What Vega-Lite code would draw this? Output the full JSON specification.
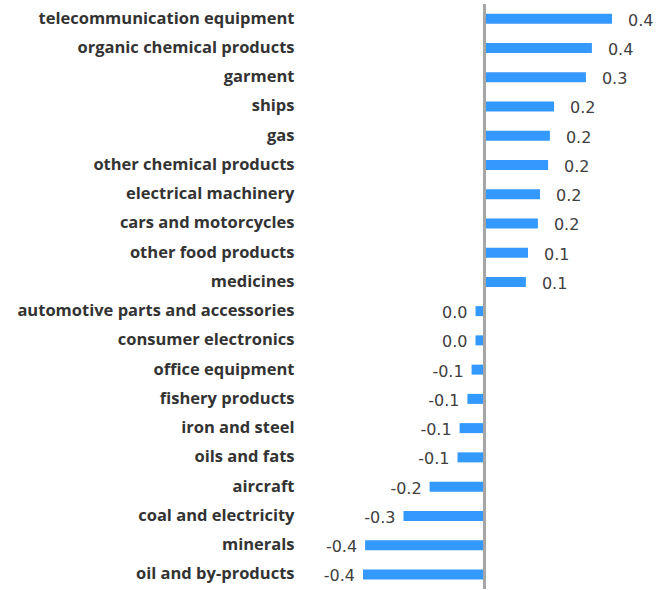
{
  "$schema": "https://vega.github.io/schema/vega-lite/v6.json",
  "autosize": {"type": "none"},
  "padding": {"left": 300, "top": 4, "right": 9, "bottom": 1},
  "width": 360,
  "height": 585,
  "background": "white",
  "config": {"view": {"stroke": null}},
  "data": {"values": [
    {"category": "telecommunication equipment", "value": 0.425, "label": "0.4"},
    {"category": "organic chemical products", "value": 0.358, "label": "0.4"},
    {"category": "garment", "value": 0.338, "label": "0.3"},
    {"category": "ships", "value": 0.232, "label": "0.2"},
    {"category": "gas", "value": 0.218, "label": "0.2"},
    {"category": "other chemical products", "value": 0.212, "label": "0.2"},
    {"category": "electrical machinery", "value": 0.185, "label": "0.2"},
    {"category": "cars and motorcycles", "value": 0.178, "label": "0.2"},
    {"category": "other food products", "value": 0.145, "label": "0.1"},
    {"category": "medicines", "value": 0.138, "label": "0.1"},
    {"category": "automotive parts and accessories", "value": -0.03, "label": "0.0"},
    {"category": "consumer electronics", "value": -0.03, "label": "0.0"},
    {"category": "office equipment", "value": -0.043, "label": "-0.1"},
    {"category": "fishery products ", "value": -0.057, "label": "-0.1"},
    {"category": "iron and steel", "value": -0.083, "label": "-0.1"},
    {"category": "oils and fats", "value": -0.09, "label": "-0.1"},
    {"category": "aircraft", "value": -0.183, "label": "-0.2"},
    {"category": "coal and electricity", "value": -0.27, "label": "-0.3"},
    {"category": "minerals", "value": -0.398, "label": "-0.4"},
    {"category": "oil and by-products", "value": -0.405, "label": "-0.4"}
  ]},
  "encoding": {
    "y": {
      "field": "category", "type": "nominal", "sort": null,
      "scale": {"paddingInner": 0, "paddingOuter": 0},
      "axis": {
        "title": null, "domain": false, "ticks": false, "labelPadding": 6,
        "labelFont": "Open Sans", "labelFontWeight": "bold", "labelFontSize": 16.5,
        "labelColor": "#333333", "labelLimit": 400
      }
    },
    "x": {
      "field": "value", "type": "quantitative",
      "scale": {"domain": [-0.615, 0.585], "nice": false, "zero": false},
      "axis": null
    }
  },
  "layer": [
    {"mark": {"type": "bar", "color": "#3399FF", "size": 10}},
    {
      "transform": [{"filter": "datum.value >= 0"}],
      "mark": {"type": "text", "align": "left", "baseline": "middle", "dx": 16, "dy": 2,
               "font": "DejaVu Sans", "fontSize": 16, "color": "#404040"},
      "encoding": {"text": {"field": "label"}}
    },
    {
      "transform": [{"filter": "datum.value < 0"}],
      "mark": {"type": "text", "align": "right", "baseline": "middle", "dx": -8, "dy": 2,
               "font": "DejaVu Sans", "fontSize": 16, "color": "#404040"},
      "encoding": {"text": {"field": "label"}}
    },
    {
      "mark": {"type": "rule", "color": "#A6A6A6", "strokeWidth": 3},
      "encoding": {"x": {"datum": 0}, "y": null}
    }
  ]
}
